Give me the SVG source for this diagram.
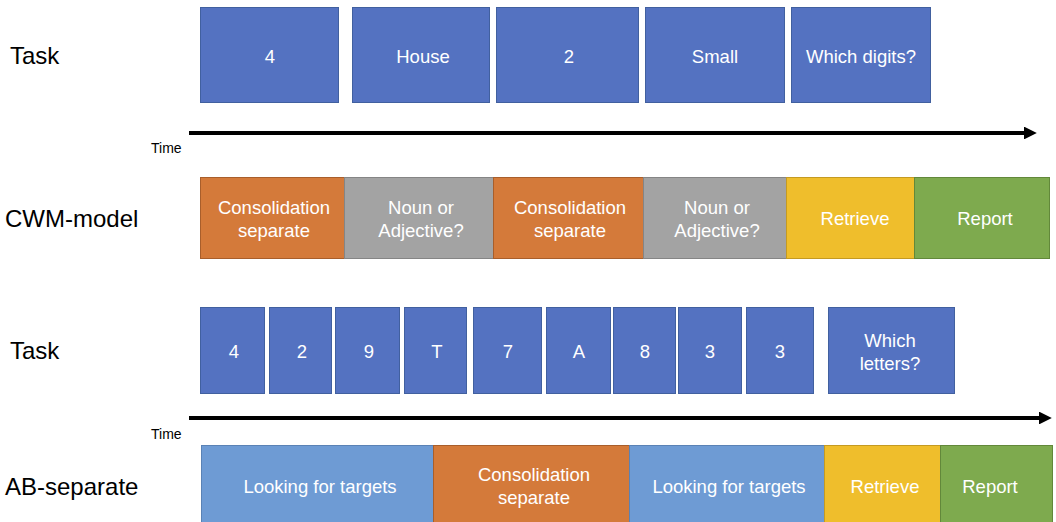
<svg xmlns="http://www.w3.org/2000/svg" width="1056" height="522" viewBox="0 0 1056 522">
<style>
.lbl{font-family:"Liberation Sans",Arial,sans-serif;font-size:24px;fill:#000}
.time{font-family:"Liberation Sans",Arial,sans-serif;font-size:14px;fill:#000}
.bt{font-family:"Liberation Sans",Arial,sans-serif;font-size:18.5px;fill:#fff;text-anchor:middle;dominant-baseline:central}
.blue{fill:#5472C1;stroke:#41609F;stroke-width:1}
.orange{fill:#D47A3A;stroke:#A85E2B;stroke-width:1}
.gray{fill:#A3A3A3;stroke:#858585;stroke-width:1}
.yellow{fill:#EFBE2C;stroke:#C49A22;stroke-width:1}
.green{fill:#7EAA4E;stroke:#62883A;stroke-width:1}
.lblue{fill:#6E9BD4;stroke:#5A82B5;stroke-width:1}
</style>
<defs>
<marker id="ah" viewBox="0 0 10 10" refX="0" refY="5" markerWidth="4" markerHeight="3.2" markerUnits="strokeWidth" orient="auto">
<path d="M0,0 L10,5 L0,10 Z" fill="#000"/>
</marker>
</defs>
<rect width="1056" height="522" fill="#fff"/>

<g id="row-labels">
<text class="lbl" x="10" y="64">Task</text>
<text class="lbl" x="5" y="227">CWM-model</text>
<text class="lbl" x="10" y="359">Task</text>
<text class="lbl" x="5" y="495">AB-separate</text>
<text class="time" x="151" y="153">Time</text>
<text class="time" x="151" y="439">Time</text>
</g>

<g id="connectors">
<line x1="189" y1="133" x2="1024" y2="133" stroke="#000" stroke-width="4" marker-end="url(#ah)"/>
<line x1="189" y1="418" x2="1039" y2="418" stroke="#000" stroke-width="4" marker-end="url(#ah)"/>
</g>

<g id="task1-4"><rect class="blue" x="200.5" y="7.5" width="138" height="95"/><text class="bt" x="270" y="56">4</text></g>
<g id="task1-house"><rect class="blue" x="352.5" y="7.5" width="137" height="95"/><text class="bt" x="423" y="56">House</text></g>
<g id="task1-2"><rect class="blue" x="496.5" y="7.5" width="142" height="95"/><text class="bt" x="569" y="56">2</text></g>
<g id="task1-small"><rect class="blue" x="645.5" y="7.5" width="139" height="95"/><text class="bt" x="715" y="56">Small</text></g>
<g id="task1-which"><rect class="blue" x="791.5" y="7.5" width="139" height="95"/><text class="bt" x="861" y="56">Which digits?</text></g>

<g id="cwm-cons1"><rect class="orange" x="200.5" y="177.5" width="144" height="81"/><text class="bt" x="274" y="207">Consolidation</text><text class="bt" x="274" y="230">separate</text></g>
<g id="cwm-noun1"><rect class="gray" x="344.5" y="177.5" width="149" height="81"/><text class="bt" x="421" y="207">Noun or</text><text class="bt" x="421" y="230">Adjective?</text></g>
<g id="cwm-cons2"><rect class="orange" x="493.5" y="177.5" width="150" height="81"/><text class="bt" x="570" y="207">Consolidation</text><text class="bt" x="570" y="230">separate</text></g>
<g id="cwm-noun2"><rect class="gray" x="643.5" y="177.5" width="143" height="81"/><text class="bt" x="717" y="207">Noun or</text><text class="bt" x="717" y="230">Adjective?</text></g>
<g id="cwm-retrieve"><rect class="yellow" x="786.5" y="177.5" width="128" height="81"/><text class="bt" x="855" y="218">Retrieve</text></g>
<g id="cwm-report"><rect class="green" x="914.5" y="177.5" width="135" height="81"/><text class="bt" x="985" y="218">Report</text></g>

<g id="task2-1"><rect class="blue" x="200.5" y="307.5" width="64" height="86"/><text class="bt" x="234" y="351">4</text></g>
<g id="task2-2"><rect class="blue" x="269.5" y="307.5" width="62" height="86"/><text class="bt" x="302" y="351">2</text></g>
<g id="task2-3"><rect class="blue" x="335.5" y="307.5" width="64" height="86"/><text class="bt" x="369" y="351">9</text></g>
<g id="task2-4"><rect class="blue" x="404.5" y="307.5" width="62" height="86"/><text class="bt" x="437" y="351">T</text></g>
<g id="task2-5"><rect class="blue" x="473.5" y="307.5" width="68" height="86"/><text class="bt" x="508" y="351">7</text></g>
<g id="task2-6"><rect class="blue" x="546.5" y="307.5" width="64" height="86"/><text class="bt" x="579" y="351">A</text></g>
<g id="task2-7"><rect class="blue" x="613.5" y="307.5" width="62" height="86"/><text class="bt" x="645" y="351">8</text></g>
<g id="task2-8"><rect class="blue" x="678.5" y="307.5" width="63" height="86"/><text class="bt" x="710" y="351">3</text></g>
<g id="task2-9"><rect class="blue" x="746.5" y="307.5" width="67" height="86"/><text class="bt" x="780" y="351">3</text></g>
<g id="task2-which"><rect class="blue" x="828.5" y="307.5" width="126" height="86"/><text class="bt" x="890" y="340">Which</text><text class="bt" x="890" y="363">letters?</text></g>

<g id="ab-look1"><rect class="lblue" x="201.5" y="445.5" width="232" height="80"/><text class="bt" x="320" y="486">Looking for targets</text></g>
<g id="ab-cons"><rect class="orange" x="433.5" y="445.5" width="196" height="80"/><text class="bt" x="534" y="474">Consolidation</text><text class="bt" x="534" y="497">separate</text></g>
<g id="ab-look2"><rect class="lblue" x="629.5" y="445.5" width="195" height="80"/><text class="bt" x="729" y="486">Looking for targets</text></g>
<g id="ab-retrieve"><rect class="yellow" x="824.5" y="445.5" width="116" height="80"/><text class="bt" x="885" y="486">Retrieve</text></g>
<g id="ab-report"><rect class="green" x="940.5" y="445.5" width="112" height="80"/><text class="bt" x="990" y="486">Report</text></g>
</svg>
